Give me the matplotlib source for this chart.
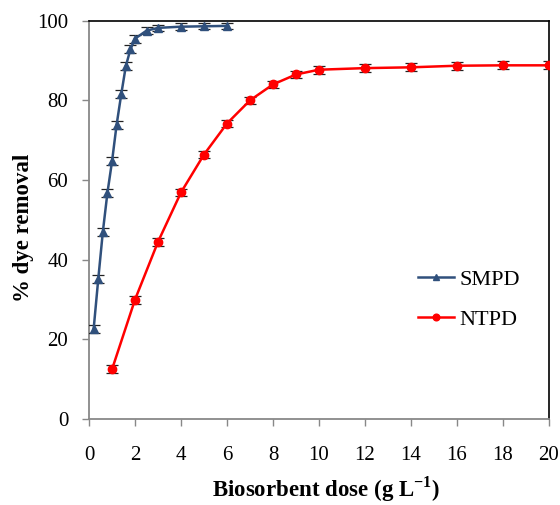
import matplotlib
matplotlib.use("Agg")
import matplotlib.pyplot as plt

SMPD_DOSE = [0.2, 0.4, 0.6, 0.8, 1.0, 1.2, 1.4, 1.6, 1.8, 2.0, 2.5, 3.0, 4.0, 5.0, 6.0]
SMPD_REMOVAL = [22.6, 35.1, 47.0, 56.8, 64.7, 73.9, 81.5, 88.6, 92.8, 95.5, 97.5, 98.2, 98.5, 98.6, 98.7]
SMPD_ERR = [1.0, 1.0, 1.0, 1.0, 1.0, 1.0, 1.0, 1.0, 1.0, 1.0, 0.8, 0.8, 0.8, 0.8, 0.8]

NTPD_DOSE = [1, 2, 3, 4, 5, 6, 7, 8, 9, 10, 12, 14, 16, 18, 20]
NTPD_REMOVAL = [12.5, 30.0, 44.5, 56.9, 66.4, 74.2, 80.0, 84.0, 86.5, 87.7, 88.1, 88.3, 88.7, 88.8, 88.8]
NTPD_ERR = [1.0, 1.0, 1.0, 0.8, 0.8, 0.8, 0.8, 0.9, 1.0, 1.0, 1.0, 1.0, 1.0, 1.0, 1.0]

plt.rcParams["font.family"] = ["Liberation Serif", "DejaVu Serif"]
plt.rcParams["mathtext.fontset"] = "custom"
plt.rcParams["mathtext.rm"] = "Liberation Serif"
plt.rcParams["mathtext.bf"] = "Liberation Serif:bold"

fig = plt.figure(figsize=(5.6, 5.05), dpi=100)
ax = fig.add_axes([0.159, 0.170, 0.821, 0.789])

ax.errorbar(SMPD_DOSE, SMPD_REMOVAL, yerr=SMPD_ERR, color="#30507c", marker="^",
            markersize=6, linewidth=1.8, ecolor="#222222", elinewidth=0.9,
            capsize=4, capthick=0.9, label="SMPD", zorder=3)
ax.errorbar(NTPD_DOSE, NTPD_REMOVAL, yerr=NTPD_ERR, color="#ff0000", marker="o",
            markersize=6, linewidth=1.8, ecolor="#222222", elinewidth=0.9,
            capsize=4, capthick=0.9, label="NTPD", zorder=3)

ax.set_xlim(0, 20)
ax.set_ylim(0, 100)
ax.set_xticks(range(0, 21, 2))
ax.set_yticks(range(0, 101, 20))
ax.tick_params(axis="both", direction="out", length=5, width=1, color="#888888",
               labelsize=15)
ax.tick_params(axis="y", pad=10)
ax.tick_params(axis="x", pad=14)
for side in ("left", "bottom"):
    ax.spines[side].set_color("#888888")
    ax.spines[side].set_linewidth(1.3)
for side in ("top", "right"):
    ax.spines[side].set_color("black")
    ax.spines[side].set_linewidth(1.2)

ax.set_xlabel(r"Biosorbent dose (g L$^{\mathbf{-1}}$)", fontsize=16.5, fontweight="bold")
ax.set_ylabel("% dye removal", fontsize=16.5, fontweight="bold")
ax.xaxis.set_label_coords(0.515, -0.138)
ax.yaxis.set_label_coords(-0.12, 0.479)

handles, labels = ax.get_legend_handles_labels()
handles = [h[0] for h in handles]
ax.legend(handles, labels, loc="center left", bbox_to_anchor=(0.672, 0.30), frameon=False,
          fontsize=16, handlelength=1.6, handletextpad=0.25, labelspacing=0.85, markerscale=0.8)

fig.savefig("out.png", dpi=100)
